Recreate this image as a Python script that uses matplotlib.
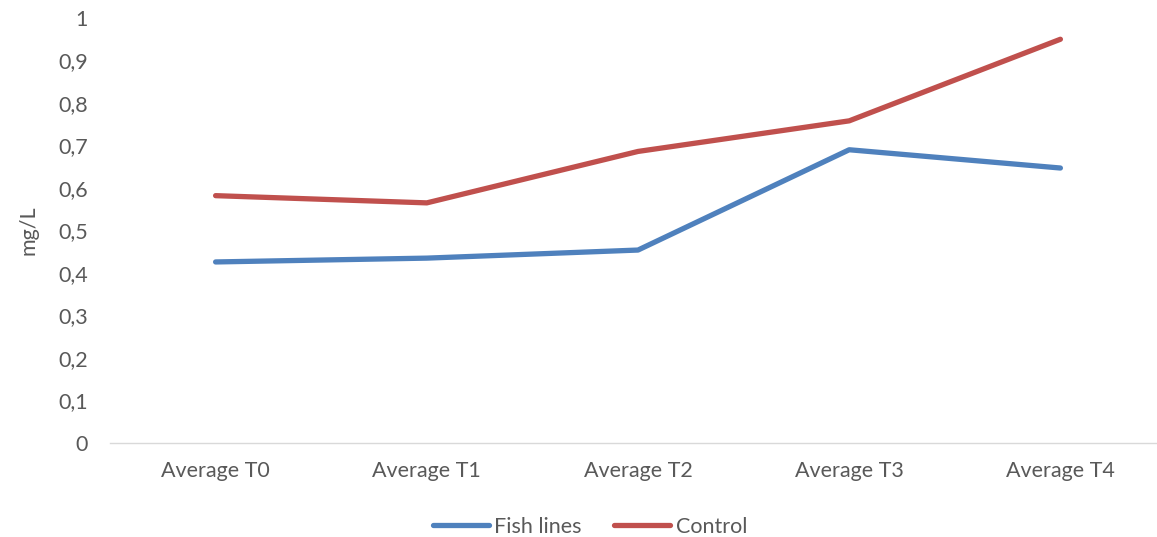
import matplotlib.pyplot as plt

# Concentration means per sampling time
categories = ["Average T0", "Average T1", "Average T2", "Average T3", "Average T4"]
fish_lines = [0.426, 0.435, 0.454, 0.690, 0.647]
control = [0.582, 0.565, 0.686, 0.758, 0.950]

plt.rcParams["font.family"] = ["Lato", "DejaVu Sans"]
text_color = "#595959"
fs = 15.5

fig = plt.figure(figsize=(11.57, 5.37), dpi=100)
ax = fig.add_axes([110 / 1157, 94 / 537, 1056 / 1157, 425 / 537])

x = range(len(categories))
ax.plot(x, fish_lines, color="#4F81BD", lw=3.8, solid_capstyle="round",
        solid_joinstyle="round", label="Fish lines")
ax.plot(x, control, color="#C0504D", lw=3.8, solid_capstyle="round",
        solid_joinstyle="round", label="Control")

ax.set_xlim(-0.5, len(categories) - 0.5)
ax.set_ylim(0, 1)
ax.set_xticks(list(x))
ax.set_xticklabels(categories)
yticks = [i / 10 for i in range(11)]
ax.set_yticks(yticks)
ax.set_yticklabels(["0" if v == 0 else "1" if v == 1 else f"{v:.1f}".replace(".", ",")
                    for v in yticks])
ax.tick_params(length=0, labelsize=fs, colors=text_color)
ax.tick_params(axis="x", pad=13)
ax.tick_params(axis="y", pad=16)

for side in ["top", "right", "left"]:
    ax.spines[side].set_visible(False)
ax.spines["bottom"].set_color("#D9D9D9")
ax.spines["bottom"].set_linewidth(1)

ax.set_ylabel("mg/L", fontsize=fs, color=text_color, labelpad=14)

fig.legend(loc="center", bbox_to_anchor=(590 / 1157, 1 - 527 / 537), ncol=2,
           frameon=False, fontsize=fs, handlelength=2.6, handletextpad=0.25,
           columnspacing=1.5, labelcolor=text_color)

fig.savefig("out.png", dpi=100)
